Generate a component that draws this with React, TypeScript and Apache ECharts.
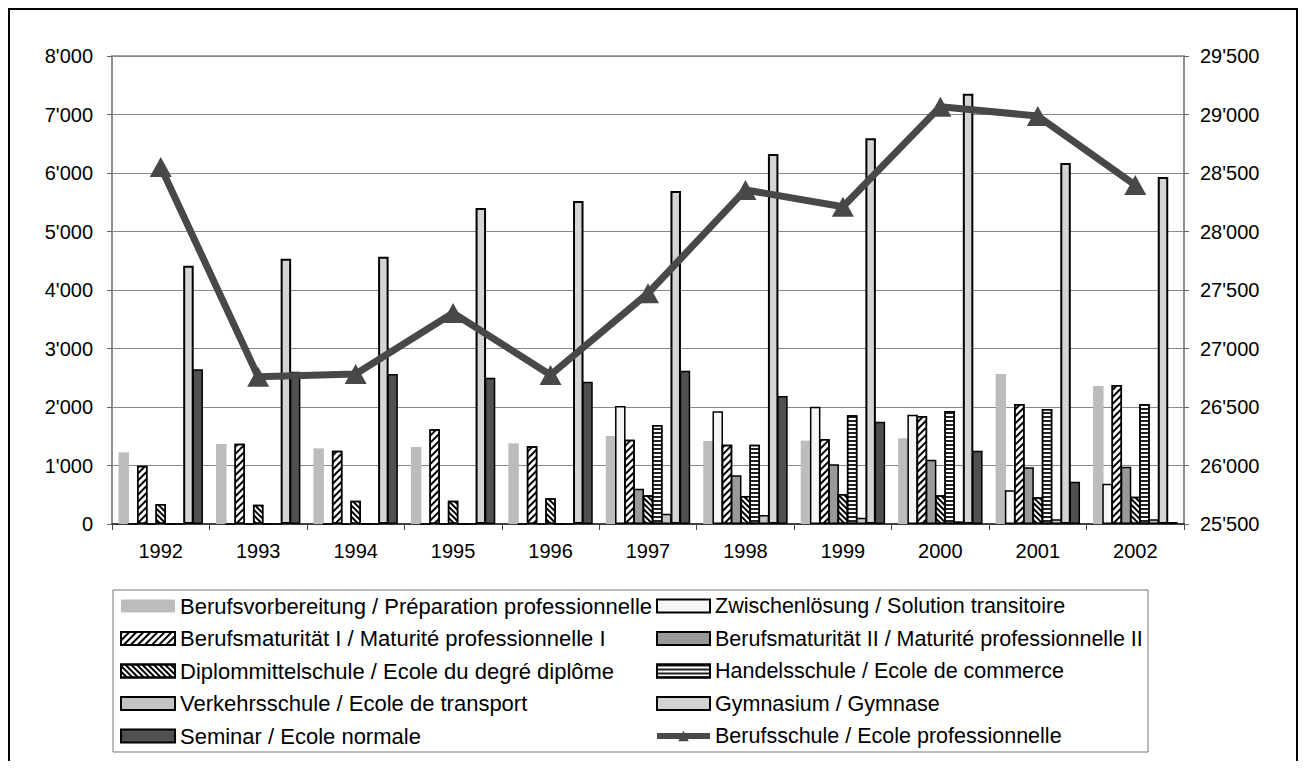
import React, { useEffect, useRef } from "react";
import * as echarts from "echarts";

const years = ["1992", "1993", "1994", "1995", "1996", "1997", "1998", "1999", "2000", "2001", "2002"];

const berufsvorbereitung = [1225, 1368, 1293, 1316, 1379, 1504, 1419, 1425, 1464, 2564, 2359];
const zwischenloesung = [0, 0, 0, 0, 0, 2017, 1926, 2006, 1869, 575, 689];
const berufsmaturitaet1 = [997, 1373, 1254, 1618, 1328, 1442, 1356, 1453, 1846, 2051, 2376];
const berufsmaturitaet2 = [0, 0, 0, 0, 0, 604, 832, 1020, 1100, 969, 980];
const diplommittelschule = [342, 330, 399, 399, 439, 490, 479, 513, 490, 456, 467];
const handelsschule = [0, 0, 0, 0, 0, 1692, 1356, 1858, 1932, 1966, 2051];
const verkehrsschule = [0, 0, 0, 0, 0, 177, 154, 108, 46, 80, 80];
const gymnasium = [4415, 4535, 4570, 5402, 5521, 5692, 6325, 6593, 7356, 6171, 5932];
const seminar = [2644, 2603, 2564, 2501, 2433, 2621, 2188, 1749, 1254, 724, 34];
const berufsschule = [28551, 26759, 26782, 27303, 26774, 27472, 28355, 28212, 29067, 28987, 28397];

const leftTicks = { min: 0, max: 8000, interval: 1000 };
const rightTicks = { min: 25500, max: 29500, interval: 500 };

const names = [
  "Berufsvorbereitung / Préparation professionnelle",
  "Zwischenlösung / Solution transitoire",
  "Berufsmaturität I / Maturité professionnelle I",
  "Berufsmaturität II / Maturité professionnelle II",
  "Diplommittelschule / Ecole du degré diplôme",
  "Handelsschule / Ecole de commerce",
  "Verkehrsschule / Ecole de transport",
  "Gymnasium / Gymnase",
  "Seminar / Ecole normale",
  "Berufsschule / Ecole professionnelle",
];

const FONT = "'Liberation Sans', Arial, sans-serif";

const fmt = (v: number) => String(v).replace(/\B(?=(\d{3})+(?!\d))/g, "'");

export default function App() {
  const ref = useRef<HTMLDivElement>(null);
  useEffect(() => {
    if (!ref.current) return;
    const chart = echarts.init(ref.current, undefined, { renderer: "svg" });
    const border = { borderColor: "#000", borderWidth: 1.5 };
    const bar = (name: string, data: number[], itemStyle: any) => ({
      name,
      type: "bar",
      data,
      barWidth: 10.5,
      barGap: "-12%",
      itemStyle,
    });
    const series: any[] = [
      bar(names[0], berufsvorbereitung, { color: "#bcbcbc" }),
      bar(names[1], zwischenloesung, { color: "#f6f6f6", ...border }),
      bar(names[2], berufsmaturitaet1, {
        color: "#ffffff",
        ...border,
        decal: { symbol: "rect", color: "#000", backgroundColor: "#fff", dashArrayX: [1, 0], dashArrayY: [1.5, 2.5], rotation: -Math.PI / 4 },
      }),
      bar(names[3], berufsmaturitaet2, { color: "#999999", ...border }),
      bar(names[4], diplommittelschule, {
        color: "#ffffff",
        ...border,
        decal: { symbol: "rect", color: "#000", backgroundColor: "#fff", dashArrayX: [1, 0], dashArrayY: [1.5, 2], rotation: Math.PI / 4 },
      }),
      bar(names[5], handelsschule, {
        color: "#ffffff",
        ...border,
        decal: { symbol: "rect", color: "#222", backgroundColor: "#e0e0e0", dashArrayX: [1, 0], dashArrayY: [1.5, 1.5], rotation: 0 },
      }),
      bar(names[6], verkehrsschule, { color: "#c4c4c4", ...border }),
      bar(names[7], gymnasium, { color: "#d4d4d4", borderColor: "#000", borderWidth: 2 }),
      bar(names[8], seminar, { color: "#505050", ...border }),
      {
        name: names[9],
        type: "line",
        yAxisIndex: 1,
        data: berufsschule,
        symbol: "triangle",
        symbolSize: [22, 20],
        color: "#484848",
        lineStyle: { color: "#484848", width: 7 },
        itemStyle: { color: "#484848" },
        z: 10,
      },
    ];
    const legendCommon = {
      orient: "vertical",
      top: 586,
      itemWidth: 54,
      itemHeight: 13,
      itemGap: 8.5,
      padding: 0,
    };
    const legendItem = (n: string) =>
      n === names[9]
        ? { name: n, lineStyle: { width: 6, color: "#484848" }, itemStyle: { color: "#484848" } }
        : { name: n, icon: "rect" };
    chart.setOption({
      animation: false,
      backgroundColor: "#ffffff",
      textStyle: { fontFamily: FONT },
      grid: { left: 104, right: 114, top: 48, bottom: 237, show: true, borderColor: "#888", borderWidth: 1.5, containLabel: false },
      legend: [
        {
          ...legendCommon,
          left: 112,
          textStyle: { fontSize: 22, color: "#000", fontFamily: FONT, lineHeight: 24 },
          data: [0, 2, 4, 6, 8].map((i) => legendItem(names[i])),
        },
        {
          ...legendCommon,
          left: 646,
          itemWidth: 53,
          textStyle: { fontSize: 21.5, color: "#000", fontFamily: FONT, lineHeight: 24 },
          data: [1, 3, 5, 7, 9].map((i) => legendItem(names[i])),
        },
      ],
      xAxis: {
        type: "category",
        data: years,
        axisLine: { lineStyle: { color: "#222", width: 1.5 } },
        axisTick: { show: true, length: 6, lineStyle: { color: "#444" } },
        axisLabel: { fontSize: 20, color: "#000", margin: 17, fontFamily: FONT },
      },
      yAxis: [
        {
          type: "value",
          ...leftTicks,
          axisLine: { show: true, lineStyle: { color: "#888", width: 1.5 } },
          axisTick: { show: true, length: 5, lineStyle: { color: "#666" } },
          splitLine: { show: true, lineStyle: { color: "#888", width: 1 } },
          axisLabel: { fontSize: 20, color: "#000", margin: 19, fontFamily: FONT, formatter: fmt },
        },
        {
          type: "value",
          position: "right",
          ...rightTicks,
          axisLine: { show: true, lineStyle: { color: "#888", width: 1.5 } },
          axisTick: { show: true, length: 5, lineStyle: { color: "#666" } },
          splitLine: { show: false },
          axisLabel: { fontSize: 20, color: "#000", margin: 16, fontFamily: FONT, formatter: fmt },
        },
      ],
      graphic: [
        {
          type: "rect",
          shape: { x: 1, y: 1, width: 1288, height: 800 },
          style: { fill: "none", stroke: "#000", lineWidth: 2 },
          silent: true,
        },
        {
          type: "rect",
          shape: { x: 105, y: 582, width: 1035, height: 162 },
          style: { fill: "none", stroke: "#777", lineWidth: 1 },
          silent: true,
        },
      ],
      series,
    });
    return () => chart.dispose();
  }, []);
  return <div ref={ref} style={{ width: 1290, height: 753 }} />;
}
